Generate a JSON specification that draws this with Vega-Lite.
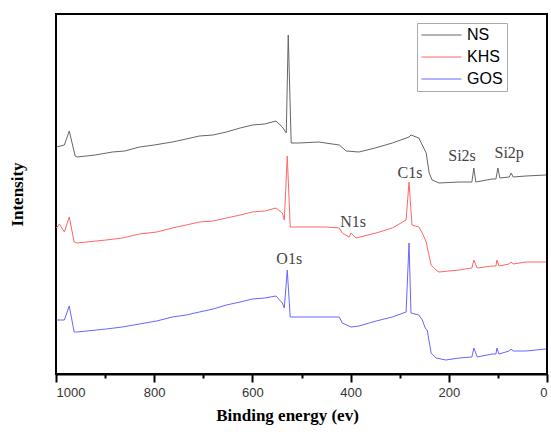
{
  "$schema": "https://vega.github.io/schema/vega-lite/v6.json",
  "width": 491,
  "height": 360,
  "autosize": "none",
  "padding": {"left": 56, "top": 14, "right": 4, "bottom": 58},
  "background": "white",
  "config": {
    "view": {"stroke": "black", "strokeWidth": 2},
    "axis": {"grid": false}
  },
  "datasets": {
    "spectra": [
      {"series": "NS", "e": 999, "v": 227}, {"series": "NS", "e": 983, "v": 229}, {"series": "NS", "e": 973, "v": 243}, {"series": "NS", "e": 961, "v": 218}, {"series": "NS", "e": 957, "v": 217},
      {"series": "NS", "e": 920, "v": 219}, {"series": "NS", "e": 885, "v": 222}, {"series": "NS", "e": 860, "v": 223}, {"series": "NS", "e": 830, "v": 227}, {"series": "NS", "e": 800, "v": 229},
      {"series": "NS", "e": 763, "v": 232}, {"series": "NS", "e": 735, "v": 235}, {"series": "NS", "e": 708, "v": 238}, {"series": "NS", "e": 680, "v": 239}, {"series": "NS", "e": 653, "v": 242},
      {"series": "NS", "e": 625, "v": 246}, {"series": "NS", "e": 600, "v": 249}, {"series": "NS", "e": 575, "v": 250}, {"series": "NS", "e": 552, "v": 253}, {"series": "NS", "e": 539, "v": 247},
      {"series": "NS", "e": 531, "v": 241}, {"series": "NS", "e": 527, "v": 339}, {"series": "NS", "e": 521, "v": 231}, {"series": "NS", "e": 505, "v": 231}, {"series": "NS", "e": 465, "v": 232},
      {"series": "NS", "e": 423, "v": 229}, {"series": "NS", "e": 409, "v": 223}, {"series": "NS", "e": 383, "v": 222}, {"series": "NS", "e": 350, "v": 226}, {"series": "NS", "e": 315, "v": 231},
      {"series": "NS", "e": 281, "v": 237}, {"series": "NS", "e": 277, "v": 239}, {"series": "NS", "e": 261, "v": 236}, {"series": "NS", "e": 254, "v": 229}, {"series": "NS", "e": 246, "v": 221},
      {"series": "NS", "e": 240, "v": 201}, {"series": "NS", "e": 234, "v": 194}, {"series": "NS", "e": 220, "v": 191}, {"series": "NS", "e": 179, "v": 192}, {"series": "NS", "e": 153, "v": 192},
      {"series": "NS", "e": 149, "v": 206}, {"series": "NS", "e": 145, "v": 192}, {"series": "NS", "e": 112, "v": 195}, {"series": "NS", "e": 104, "v": 195}, {"series": "NS", "e": 100, "v": 206},
      {"series": "NS", "e": 96, "v": 196}, {"series": "NS", "e": 77, "v": 197}, {"series": "NS", "e": 73, "v": 201}, {"series": "NS", "e": 69, "v": 197}, {"series": "NS", "e": 43, "v": 198},
      {"series": "NS", "e": 2, "v": 199},
      {"series": "KHS", "e": 999, "v": 146}, {"series": "KHS", "e": 993, "v": 150}, {"series": "KHS", "e": 983, "v": 142}, {"series": "KHS", "e": 973, "v": 157}, {"series": "KHS", "e": 963, "v": 132},
      {"series": "KHS", "e": 957, "v": 131}, {"series": "KHS", "e": 898, "v": 134}, {"series": "KHS", "e": 865, "v": 136}, {"series": "KHS", "e": 830, "v": 140}, {"series": "KHS", "e": 795, "v": 142},
      {"series": "KHS", "e": 763, "v": 146}, {"series": "KHS", "e": 735, "v": 149}, {"series": "KHS", "e": 708, "v": 152}, {"series": "KHS", "e": 680, "v": 153}, {"series": "KHS", "e": 653, "v": 156},
      {"series": "KHS", "e": 625, "v": 159}, {"series": "KHS", "e": 600, "v": 162}, {"series": "KHS", "e": 575, "v": 163}, {"series": "KHS", "e": 552, "v": 166}, {"series": "KHS", "e": 539, "v": 161},
      {"series": "KHS", "e": 535, "v": 154}, {"series": "KHS", "e": 529, "v": 218}, {"series": "KHS", "e": 523, "v": 147}, {"series": "KHS", "e": 450, "v": 147}, {"series": "KHS", "e": 423, "v": 146},
      {"series": "KHS", "e": 417, "v": 141}, {"series": "KHS", "e": 403, "v": 137}, {"series": "KHS", "e": 399, "v": 141}, {"series": "KHS", "e": 389, "v": 136}, {"series": "KHS", "e": 348, "v": 141},
      {"series": "KHS", "e": 315, "v": 146}, {"series": "KHS", "e": 287, "v": 154}, {"series": "KHS", "e": 281, "v": 192}, {"series": "KHS", "e": 275, "v": 149}, {"series": "KHS", "e": 261, "v": 147},
      {"series": "KHS", "e": 254, "v": 141}, {"series": "KHS", "e": 246, "v": 132}, {"series": "KHS", "e": 244, "v": 127}, {"series": "KHS", "e": 236, "v": 109}, {"series": "KHS", "e": 226, "v": 104},
      {"series": "KHS", "e": 220, "v": 102}, {"series": "KHS", "e": 179, "v": 104}, {"series": "KHS", "e": 153, "v": 106}, {"series": "KHS", "e": 149, "v": 114}, {"series": "KHS", "e": 142, "v": 106},
      {"series": "KHS", "e": 112, "v": 108}, {"series": "KHS", "e": 104, "v": 108}, {"series": "KHS", "e": 102, "v": 114}, {"series": "KHS", "e": 98, "v": 108}, {"series": "KHS", "e": 77, "v": 110},
      {"series": "KHS", "e": 73, "v": 112}, {"series": "KHS", "e": 69, "v": 110}, {"series": "KHS", "e": 43, "v": 112}, {"series": "KHS", "e": 2, "v": 112},
      {"series": "GOS", "e": 999, "v": 54}, {"series": "GOS", "e": 983, "v": 54}, {"series": "GOS", "e": 973, "v": 68}, {"series": "GOS", "e": 963, "v": 42}, {"series": "GOS", "e": 957, "v": 42},
      {"series": "GOS", "e": 898, "v": 45}, {"series": "GOS", "e": 865, "v": 47}, {"series": "GOS", "e": 830, "v": 50}, {"series": "GOS", "e": 795, "v": 53}, {"series": "GOS", "e": 763, "v": 57},
      {"series": "GOS", "e": 735, "v": 59}, {"series": "GOS", "e": 708, "v": 62}, {"series": "GOS", "e": 680, "v": 65}, {"series": "GOS", "e": 653, "v": 69}, {"series": "GOS", "e": 625, "v": 72},
      {"series": "GOS", "e": 600, "v": 75}, {"series": "GOS", "e": 575, "v": 76}, {"series": "GOS", "e": 552, "v": 78}, {"series": "GOS", "e": 539, "v": 71}, {"series": "GOS", "e": 535, "v": 66},
      {"series": "GOS", "e": 529, "v": 104}, {"series": "GOS", "e": 523, "v": 57}, {"series": "GOS", "e": 491, "v": 57}, {"series": "GOS", "e": 450, "v": 57}, {"series": "GOS", "e": 423, "v": 57},
      {"series": "GOS", "e": 417, "v": 51}, {"series": "GOS", "e": 399, "v": 47}, {"series": "GOS", "e": 383, "v": 48}, {"series": "GOS", "e": 348, "v": 53}, {"series": "GOS", "e": 315, "v": 57},
      {"series": "GOS", "e": 287, "v": 62}, {"series": "GOS", "e": 281, "v": 131}, {"series": "GOS", "e": 277, "v": 61}, {"series": "GOS", "e": 261, "v": 59}, {"series": "GOS", "e": 254, "v": 54},
      {"series": "GOS", "e": 248, "v": 46}, {"series": "GOS", "e": 244, "v": 44}, {"series": "GOS", "e": 236, "v": 21}, {"series": "GOS", "e": 226, "v": 16}, {"series": "GOS", "e": 206, "v": 14},
      {"series": "GOS", "e": 179, "v": 16}, {"series": "GOS", "e": 153, "v": 17}, {"series": "GOS", "e": 149, "v": 26}, {"series": "GOS", "e": 142, "v": 17}, {"series": "GOS", "e": 112, "v": 20},
      {"series": "GOS", "e": 104, "v": 20}, {"series": "GOS", "e": 102, "v": 26}, {"series": "GOS", "e": 98, "v": 20}, {"series": "GOS", "e": 77, "v": 23}, {"series": "GOS", "e": 73, "v": 25},
      {"series": "GOS", "e": 69, "v": 23}, {"series": "GOS", "e": 43, "v": 23}, {"series": "GOS", "e": 2, "v": 25}
    ],
    "labels": [
      {"label": "Si2s", "e": 173, "v": 218},
      {"label": "Si2p", "e": 77, "v": 221},
      {"label": "C1s", "e": 279, "v": 201},
      {"label": "N1s", "e": 395, "v": 152},
      {"label": "O1s", "e": 525, "v": 115}
    ]
  },
  "layer": [
    {
      "data": {"name": "spectra"},
      "mark": {"type": "line", "strokeWidth": 1, "interpolate": "linear"},
      "encoding": {
        "x": {
          "field": "e", "type": "quantitative",
          "scale": {"domain": [0, 1000], "reverse": true, "nice": false, "zero": false},
          "axis": {
            "values": [0, 100, 200, 300, 400, 500, 600, 700, 800, 900, 1000],
            "format": "d",
            "labelExpr": "datum.value % 200 === 0 ? datum.label : ''",
            "tickSize": {"condition": {"test": "datum.value % 200 === 0", "value": 8}, "value": 4},
            "tickWidth": 2,
            "tickColor": "black",
            "domainColor": "black",
            "domainWidth": 2,
            "labelFont": "Liberation Sans",
            "labelFontSize": 13,
            "labelColor": "#333333",
            "labelPadding": 4,
            "title": "Binding energy (ev)",
            "titleFont": "Liberation Serif",
            "titleFontSize": 17,
            "titleFontWeight": "bold",
            "titleColor": "black",
            "titlePadding": 8,
            "titleX": 231
          }
        },
        "y": {
          "field": "v", "type": "quantitative",
          "scale": {"domain": [0, 360], "nice": false, "zero": false},
          "axis": {
            "labels": false, "ticks": false, "domain": false,
            "title": "Intensity",
            "titleFont": "Liberation Serif",
            "titleFontSize": 17,
            "titleFontWeight": "bold",
            "titleColor": "black",
            "titlePadding": 30
          }
        },
        "color": {
          "field": "series", "type": "nominal",
          "scale": {"domain": ["NS", "KHS", "GOS"], "range": ["#666666", "#ff6666", "#6666ff"]},
          "legend": {
            "title": null,
            "orient": "none",
            "legendX": 361,
            "legendY": 9,
            "symbolType": "stroke",
            "symbolSize": 1600,
            "symbolStrokeWidth": 1,
            "clipHeight": 16,
            "rowPadding": 6,
            "padding": 4,
            "labelOffset": 5,
            "labelFont": "Liberation Sans",
            "labelFontSize": 16,
            "labelColor": "black",
            "strokeColor": "#aaaaaa",
            "fillColor": "white",
            "cornerRadius": 0
          }
        },
        "order": {"field": "e", "type": "quantitative", "sort": "descending"}
      }
    },
    {
      "data": {"name": "labels"},
      "mark": {"type": "text", "font": "Liberation Serif", "fontSize": 16, "color": "#444444", "align": "center", "baseline": "middle"},
      "encoding": {
        "x": {"field": "e", "type": "quantitative"},
        "y": {"field": "v", "type": "quantitative"},
        "text": {"field": "label"}
      }
    }
  ]
}
